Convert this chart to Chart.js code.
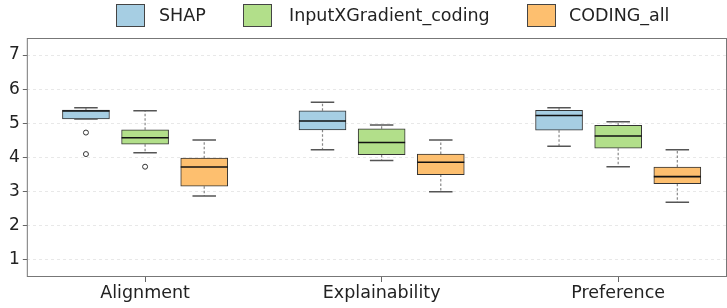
<!DOCTYPE html>
<html>
<head>
<meta charset="utf-8">
<title>Box plot</title>
<script src="https://cdn.jsdelivr.net/npm/chart.js"></script>
<style>
  html, body { margin: 0; padding: 0; background: #fff; font-family: 'DejaVu Sans', sans-serif; overflow: hidden; }
  #wrap { width: 727px; height: 308px; position: relative; overflow: hidden; }
  #myChart { display: block; }
  #legend { position: absolute; top: 0; left: 0; width: 727px; height: 34px; font-size: 17.5px; color: #222; }
  .sw { position: absolute; top: 4px; width: 27px; height: 21px; border: 1px solid #444; }
  .lbl { position: absolute; top: 4px; height: 22px; line-height: 22px; white-space: nowrap; }
</style>
</head>
<body>
<div id="wrap">
  <div id="legend"></div>
  <canvas id="myChart"></canvas>
</div>
<script>
// data
const categories = ['Alignment', 'Explainability', 'Preference'];
const methods = ['SHAP', 'InputXGradient_coding', 'CODING_all'];
const yTicks = [1, 2, 3, 4, 5, 6, 7];

const shapLo  = [5.13, 4.23, 4.33];
const shapQ1  = [5.13, 4.81, 4.80];
const shapMed = [5.36, 5.07, 5.23];
const shapQ3  = [5.39, 5.37, 5.38];
const shapHi  = [5.46, 5.62, 5.46];
const shapOut = [[4.73, 4.10], [], []];

const igLo  = [4.14, 3.91, 3.73];
const igQ1  = [4.39, 4.08, 4.27];
const igMed = [4.58, 4.44, 4.63];
const igQ3  = [4.81, 4.84, 4.94];
const igHi  = [5.37, 4.95, 5.05];
const igOut = [[3.73], [], []];

const codLo  = [2.87, 3.00, 2.69];
const codQ1  = [3.16, 3.50, 3.23];
const codMed = [3.72, 3.86, 3.44];
const codQ3  = [3.98, 4.10, 3.72];
const codHi  = [4.51, 4.51, 4.23];
const codOut = [[], [], []];

const colors = ['#a6cee3', '#b2df8a', '#fdbf6f'];
const dodge = [-0.25, 0, 0.25];

const stats = [
  {lo: shapLo, q1: shapQ1, med: shapMed, q3: shapQ3, hi: shapHi, out: shapOut},
  {lo: igLo, q1: igQ1, med: igMed, q3: igQ3, hi: igHi, out: igOut},
  {lo: codLo, q1: codQ1, med: codMed, q3: codQ3, hi: codHi, out: codOut}
];

// legend (html, so the gaps can match the picture)
const swatchX = [116, 243, 527];
const labelX = [159, 289, 569];
const legend = document.getElementById('legend');
methods.forEach((m, d) => {
  const sw = document.createElement('div');
  sw.className = 'sw';
  sw.style.left = swatchX[d] + 'px';
  sw.style.background = colors[d];
  legend.appendChild(sw);
  const lb = document.createElement('span');
  lb.className = 'lbl';
  lb.style.left = labelX[d] + 'px';
  lb.textContent = m;
  legend.appendChild(lb);
});

Chart.defaults.font.family = "'DejaVu Sans', sans-serif";
Chart.defaults.color = '#222';

const datasets = stats.map((s, d) => ({
  type: 'bar',
  label: methods[d],
  data: categories.map((c, i) => ({x: i + dodge[d], y: [s.q1[i], s.q3[i]]})),
  backgroundColor: colors[d],
  borderColor: '#333',
  borderWidth: 1,
  borderSkipped: false,
  barThickness: 47,
  grouped: false
}));

const outPts = [];
stats.forEach((s, d) => s.out.forEach((arr, i) => arr.forEach(v => outPts.push({x: i + dodge[d], y: v}))));
datasets.push({
  type: 'scatter',
  label: 'outliers',
  data: outPts,
  pointRadius: 2.5,
  pointBackgroundColor: '#fff',
  pointBorderColor: '#333',
  pointBorderWidth: 1
});

const boxParts = {
  id: 'boxParts',
  beforeDatasetsDraw(chart) {
    const ctx = chart.ctx, y = chart.scales.y;
    ctx.save();
    stats.forEach((s, d) => {
      chart.getDatasetMeta(d).data.forEach((el, i) => {
        const cx = el.x, half = el.width / 4;
        // whiskers
        ctx.strokeStyle = '#888';
        ctx.lineWidth = 1.2;
        ctx.setLineDash([2.5, 2]);
        ctx.beginPath();
        ctx.moveTo(cx, y.getPixelForValue(s.q3[i]));
        ctx.lineTo(cx, y.getPixelForValue(s.hi[i]));
        ctx.moveTo(cx, y.getPixelForValue(s.q1[i]));
        ctx.lineTo(cx, y.getPixelForValue(s.lo[i]));
        ctx.stroke();
        // caps
        ctx.setLineDash([]);
        ctx.strokeStyle = '#555';
        ctx.lineWidth = 1.5;
        ctx.beginPath();
        [s.hi[i], s.lo[i]].forEach(v => {
          const py = y.getPixelForValue(v);
          ctx.moveTo(cx - half, py);
          ctx.lineTo(cx + half, py);
        });
        ctx.stroke();
      });
    });
    ctx.restore();
  },
  afterDatasetsDraw(chart) {
    const ctx = chart.ctx, y = chart.scales.y, a = chart.chartArea;
    ctx.save();
    stats.forEach((s, d) => {
      chart.getDatasetMeta(d).data.forEach((el, i) => {
        const py = y.getPixelForValue(s.med[i]);
        ctx.strokeStyle = '#111';
        ctx.lineWidth = 1.6;
        ctx.beginPath();
        ctx.moveTo(el.x - el.width / 2, py);
        ctx.lineTo(el.x + el.width / 2, py);
        ctx.stroke();
      });
    });
    // frame
    ctx.strokeStyle = '#777';
    ctx.lineWidth = 1;
    ctx.strokeRect(a.left + 0.5, a.top + 0.5, a.right - a.left - 1, a.bottom - a.top - 1);
    ctx.restore();
  }
};

new Chart(document.getElementById('myChart'), {
  data: {datasets: datasets},
  options: {
    responsive: true,
    maintainAspectRatio: false,
    animation: false,
    layout: {autoPadding: false, padding: {left: 6, right: 0, top: 38, bottom: 3}},
    plugins: {
      tooltip: {enabled: false},
      legend: {display: false}
    },
    scales: {
      x: {
        type: 'linear',
        offset: false,
        min: -0.5,
        max: 2.46,
        afterBuildTicks: axis => { axis.ticks = categories.map((c, i) => ({value: i})); },
        ticks: {
          callback: v => categories[v],
          font: {size: 17.5},
          color: '#222',
          padding: 1,
          maxRotation: 0
        },
        grid: {display: true, offset: false, drawOnChartArea: false, drawTicks: true, tickLength: 5, tickColor: '#666'},
        border: {display: false}
      },
      y: {
        min: 0.5,
        max: 7.5,
        afterBuildTicks: axis => { axis.ticks = yTicks.map(v => ({value: v})); },
        ticks: {font: {size: 17}, color: '#222', padding: 3},
        grid: {color: '#e8e8e8', lineWidth: 1, tickLength: 4, tickColor: '#666'},
        border: {display: false, dash: [3, 3]}
      }
    }
  },
  plugins: [boxParts]
});
</script>
</body>
</html>
